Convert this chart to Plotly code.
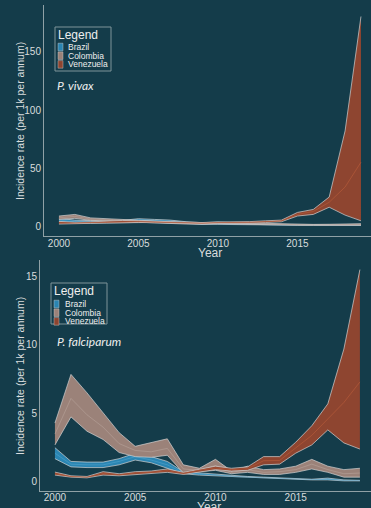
import plotly.graph_objects as go

W, H = 371, 508

years = list(range(2000, 2020))
countries = ["Brazil", "Colombia", "Venezuela"]

# P. vivax (incidence per 1k per annum): lower / middle / upper bounds
viv_bra_lo = [3.7, 2.3, 2.5, 2.7, 2.9, 3.4, 3.1, 2.9, 2.0, 1.4, 1.4, 1.2, 0.9, 0.6, 0.6, 0.6, 0.6, 0.6, 0.6, 0.6]
viv_bra_mid = [5.1, 3.7, 3.5, 3.5, 3.9, 4.8, 4.4, 4.0, 2.8, 2.1, 2.2, 1.7, 1.4, 1.0, 0.8, 0.8, 0.8, 0.8, 0.8, 0.8]
viv_bra_hi = [6.6, 5.1, 4.6, 4.3, 4.9, 6.3, 5.7, 5.1, 3.7, 2.9, 3.1, 2.3, 2.0, 1.4, 1.1, 1.1, 1.1, 1.1, 1.1, 1.1]
viv_col_lo = [5.7, 6.6, 4.9, 4.3, 3.7, 3.1, 2.9, 2.3, 1.7, 1.7, 2.3, 1.7, 1.4, 0.9, 0.9, 0.7, 0.7, 0.7, 0.7, 0.7]
viv_col_mid = [7.1, 8.3, 6.0, 5.3, 4.4, 4.0, 3.6, 3.0, 2.3, 2.3, 2.8, 2.3, 2.0, 1.4, 1.3, 1.0, 1.0, 1.1, 1.2, 1.3]
viv_col_hi = [8.6, 10.0, 7.0, 6.3, 5.1, 4.9, 4.3, 3.7, 2.9, 2.9, 3.4, 2.9, 2.6, 2.0, 1.7, 1.4, 1.4, 1.5, 1.7, 2.0]
viv_ven_lo = [1.7, 1.7, 2.3, 2.6, 3.0, 3.1, 2.8, 2.4, 1.9, 1.9, 2.3, 2.3, 2.6, 3.0, 3.7, 8.6, 10.0, 16.2, 9.4, 4.5]
viv_ven_mid = [2.8, 2.5, 3.0, 3.3, 3.9, 3.8, 3.4, 3.0, 2.4, 2.4, 2.9, 2.9, 3.2, 3.7, 4.4, 10.0, 12.5, 20.5, 33.6, 55.0]
viv_ven_hi = [4.0, 3.3, 3.6, 4.0, 4.8, 4.5, 4.0, 3.7, 3.0, 3.0, 3.5, 3.5, 3.8, 4.5, 5.1, 11.7, 14.3, 25.0, 82.0, 180.6]

# P. falciparum
fal_bra_lo = [1.7, 1.1, 1.05, 1.05, 1.25, 1.6, 1.4, 1.0, 0.6, 0.5, 0.45, 0.35, 0.3, 0.25, 0.2, 0.15, 0.15, 0.15, 0.08, 0.08]
fal_bra_mid = [2.1, 1.3, 1.25, 1.25, 1.5, 1.85, 1.6, 1.25, 0.68, 0.58, 0.52, 0.4, 0.35, 0.3, 0.25, 0.2, 0.18, 0.2, 0.12, 0.1]
fal_bra_hi = [2.5, 1.5, 1.45, 1.45, 1.7, 2.1, 1.85, 1.5, 0.75, 0.65, 0.6, 0.45, 0.4, 0.35, 0.3, 0.25, 0.2, 0.28, 0.15, 0.12]
fal_col_lo = [2.7, 4.75, 3.7, 3.1, 2.15, 1.85, 1.8, 1.95, 0.65, 0.75, 0.85, 0.6, 0.7, 0.55, 0.55, 0.7, 0.95, 0.7, 0.35, 0.35]
fal_col_mid = [3.5, 6.1, 4.9, 4.0, 2.8, 2.3, 2.2, 2.45, 0.95, 0.85, 1.2, 0.7, 0.9, 0.7, 0.75, 0.9, 1.3, 0.9, 0.6, 0.65]
fal_col_hi = [4.3, 7.85, 6.5, 5.05, 3.6, 2.6, 2.85, 3.15, 1.25, 1.0, 1.65, 0.8, 1.15, 0.9, 0.95, 1.15, 1.65, 1.15, 0.9, 1.0]
fal_ven_lo = [0.5, 0.35, 0.3, 0.5, 0.45, 0.55, 0.6, 0.7, 0.55, 0.75, 0.9, 0.8, 0.85, 1.25, 1.3, 2.1, 2.7, 3.8, 2.85, 2.4]
fal_ven_mid = [0.6, 0.4, 0.35, 0.62, 0.52, 0.65, 0.7, 0.82, 0.62, 0.85, 1.02, 0.9, 0.97, 1.55, 1.57, 2.5, 3.4, 4.6, 5.8, 7.3]
fal_ven_hi = [0.72, 0.45, 0.4, 0.75, 0.6, 0.75, 0.8, 0.95, 0.7, 0.95, 1.15, 1.0, 1.1, 1.85, 1.85, 2.9, 4.1, 5.7, 9.7, 15.5]

y_ticks_viv = [0, 50, 100, 150]
y_ticks_fal = [0, 5, 10, 15]
x_ticks = [2000, 2005, 2010, 2015]

BG = "#143c4a"
FILL = {"Brazil": "#2a85b2", "Colombia": "#9b8279", "Venezuela": "#8e4530"}
MID = {"Brazil": "rgba(90,170,210,0.6)", "Colombia": "rgba(190,170,162,0.6)", "Venezuela": "rgba(190,95,60,0.7)"}
EDGE = "rgba(210,210,210,0.7)"
TXT = "#d9dcdd"
AXC = "#8fa1a6"

viv = {"Brazil": (viv_bra_lo, viv_bra_mid, viv_bra_hi),
       "Colombia": (viv_col_lo, viv_col_mid, viv_col_hi),
       "Venezuela": (viv_ven_lo, viv_ven_mid, viv_ven_hi)}
fal = {"Brazil": (fal_bra_lo, fal_bra_mid, fal_bra_hi),
       "Colombia": (fal_col_lo, fal_col_mid, fal_col_hi),
       "Venezuela": (fal_ven_lo, fal_ven_mid, fal_ven_hi)}

fig = go.Figure()


def add_bands(data, xa, ya):
    for c in countries:
        lo, mid, hi = data[c]
        fig.add_trace(go.Scatter(x=years, y=lo, mode="lines", xaxis=xa, yaxis=ya,
                                 line=dict(color=EDGE, width=1), showlegend=False, hoverinfo="skip"))
        fig.add_trace(go.Scatter(x=years, y=hi, mode="lines", xaxis=xa, yaxis=ya, fill="tonexty",
                                 fillcolor=FILL[c], line=dict(color=EDGE, width=1),
                                 showlegend=False, name=c))
        fig.add_trace(go.Scatter(x=years, y=mid, mode="lines", xaxis=xa, yaxis=ya,
                                 line=dict(color=MID[c], width=0.8), showlegend=False, hoverinfo="skip"))


add_bands(viv, "x", "y")
add_bands(fal, "x2", "y2")


def px(v):
    return v / W


def py(v):
    return 1 - v / H


axis_common = dict(showgrid=False, zeroline=False, showline=True, linecolor=AXC, linewidth=1,
                   ticks="", tickfont=dict(family="Liberation Sans, Arial", size=10, color=TXT))

fig.update_layout(
    width=W, height=H, margin=dict(l=0, r=0, t=0, b=0),
    paper_bgcolor=BG, plot_bgcolor=BG, showlegend=False,
    xaxis=dict(domain=[px(44), 1], range=[1999.06, 2019.63], tickvals=x_ticks, anchor="y",
               ticklabelstandoff=-2, **axis_common),
    yaxis=dict(domain=[py(236), py(5)], range=[-8.6, 190.5], tickvals=y_ticks_viv, anchor="x", **axis_common),
    xaxis2=dict(domain=[px(40), 1], range=[1999.07, 2019.69], tickvals=x_ticks, anchor="y2",
                ticklabelstandoff=-3, **axis_common),
    yaxis2=dict(domain=[py(491), py(260)], range=[-0.66, 16.2], tickvals=y_ticks_fal, anchor="x2", **axis_common),
)

ann = []
shapes = []


def note(x, y, text, size, color=TXT, family="Liberation Sans, Arial", xanchor="center", angle=0):
    ann.append(dict(x=px(x), y=py(y), xref="paper", yref="paper", text=text, textangle=angle,
                    xanchor=xanchor, yanchor="middle", showarrow=False, borderpad=0,
                    font=dict(family=family, size=size, color=color)))


ytitle = "Incidence rate (per 1k per annum)"
note(20, 121, ytitle, 10.5, angle=-90)
note(20, 376, ytitle, 10.5, angle=-90)
note(210, 253, "Year", 12)
note(209, 507, "Year", 12)
note(56, 85, "<i>P. vivax</i>", 12, color="#eeeeee", family="Lato", xanchor="left")
note(56, 341, "<i>P. falciparum</i>", 12, color="#eeeeee", family="Lato", xanchor="left")

# manual compact legends
for (bx0, by0, bx1, by1, ty, items_y, sw_x, tx) in [
        (55, 27, 111, 71, 35, [47, 55.7, 64.4], 58, 67),
        (51, 283, 107, 324, 291, [304, 312.7, 321.4], 54, 64)]:
    shapes.append(dict(type="rect", xref="paper", yref="paper", x0=px(bx0), x1=px(bx1), y0=py(by1), y1=py(by0),
                       line=dict(color="#7f9499", width=1), fillcolor="rgba(0,0,0,0)"))
    note(bx0 + 2, ty, "Legend", 12, color="#eeeeee", xanchor="left")
    for c, iy in zip(countries, items_y):
        shapes.append(dict(type="rect", xref="paper", yref="paper", x0=px(sw_x), x1=px(sw_x + 5),
                           y0=py(iy + 3.8), y1=py(iy - 3.8), line=dict(color=EDGE, width=0.6),
                           fillcolor=FILL[c]))
        note(tx, iy, c, 8.5, color="#eeeeee", xanchor="left")

fig.update_layout(annotations=ann, shapes=shapes)
fig.write_html("out.html")
